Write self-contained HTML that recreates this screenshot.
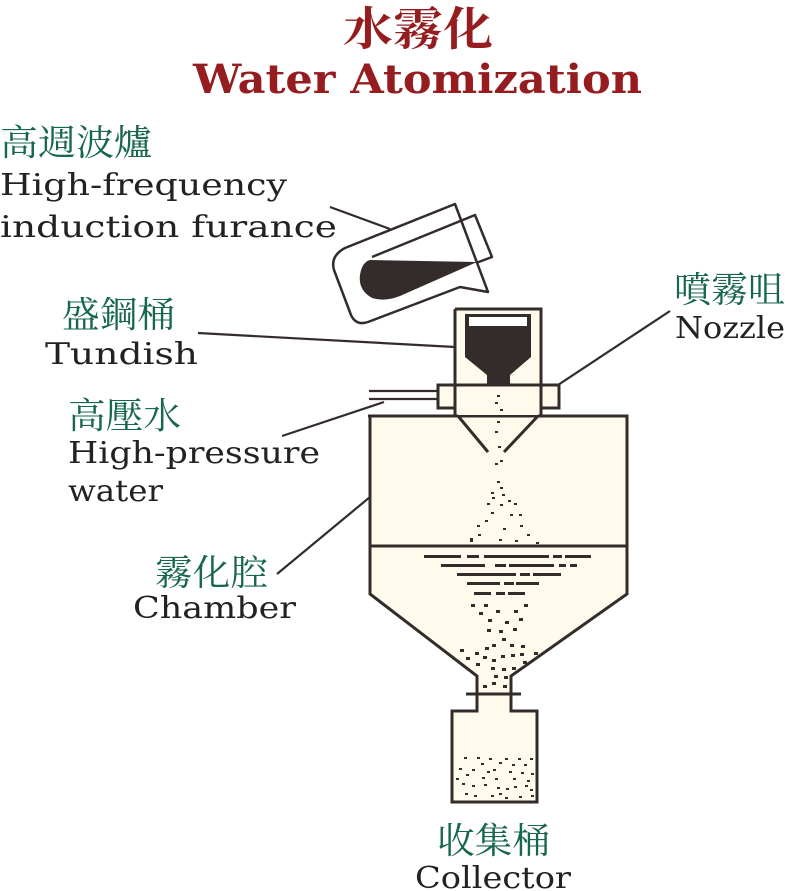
<!DOCTYPE html>
<html><head><meta charset="utf-8"><style>
html,body{margin:0;padding:0;background:#fff;}
svg{display:block;}
.g{fill:#17684a;font-family:"Noto Serif CJK SC","Noto Sans CJK TC",serif;font-size:36px;}
.e{fill:#222;font-family:"DejaVu Serif","Liberation Serif",serif;font-size:30px;}
</style></head><body>
<svg width="785" height="891" viewBox="0 0 785 891" xmlns="http://www.w3.org/2000/svg">
<text x="343" y="45" textLength="150" lengthAdjust="spacingAndGlyphs" style="fill:#951d20;font-family:'Noto Serif CJK SC',serif;font-size:46px;font-weight:bold;">水霧化</text>
<text x="193" y="93" textLength="449" lengthAdjust="spacingAndGlyphs" style="fill:#951d20;font-family:'DejaVu Serif','Liberation Serif',serif;font-size:40px;font-weight:bold;">Water Atomization</text>

<text class="g" x="0" y="155" textLength="152" lengthAdjust="spacingAndGlyphs">高週波爐</text>
<text class="e" x="0" y="195" textLength="287" lengthAdjust="spacingAndGlyphs">High-frequency</text>
<text class="e" x="0" y="237" textLength="337" lengthAdjust="spacingAndGlyphs">induction furance</text>
<text class="g" x="62" y="327" textLength="113" lengthAdjust="spacingAndGlyphs">盛鋼桶</text>
<text class="e" x="45" y="364" textLength="153" lengthAdjust="spacingAndGlyphs">Tundish</text>
<text class="g" x="674" y="302" textLength="111" lengthAdjust="spacingAndGlyphs">噴霧咀</text>
<text class="e" x="675" y="338" textLength="110" lengthAdjust="spacingAndGlyphs">Nozzle</text>
<text class="g" x="68" y="428" textLength="113" lengthAdjust="spacingAndGlyphs">高壓水</text>
<text class="e" x="68" y="463" textLength="252" lengthAdjust="spacingAndGlyphs">High-pressure</text>
<text class="e" x="68" y="501" textLength="95" lengthAdjust="spacingAndGlyphs">water</text>
<text class="g" x="155" y="585" textLength="113" lengthAdjust="spacingAndGlyphs">霧化腔</text>
<text class="e" x="133" y="618" textLength="163" lengthAdjust="spacingAndGlyphs">Chamber</text>
<text class="g" x="437" y="853" textLength="113" lengthAdjust="spacingAndGlyphs">收集桶</text>
<text class="e" x="415" y="888" textLength="156" lengthAdjust="spacingAndGlyphs">Collector</text>

<g stroke="#332c2a" stroke-width="2.2" fill="none">
<line x1="330" y1="207" x2="390" y2="229"/>
<line x1="198" y1="333" x2="455" y2="347"/>
<line x1="670" y1="311" x2="558" y2="385"/>
<line x1="282" y1="436" x2="384" y2="402"/>
<line x1="277" y1="574" x2="370" y2="497"/>
<line x1="369" y1="391" x2="438" y2="391"/>
<line x1="369" y1="399" x2="438" y2="399"/>
</g>

<!-- furnace -->
<g stroke="#332c2a" stroke-width="2.5" stroke-linejoin="round">
<path d="M345 248 L455 204 L488 292 L460 287 L368 322 Q356 326 351 315 L334 270 Q330 256 345 248 Z" fill="#fff"/>
<path d="M372 257 L475 215 L492 257 L476 263" fill="none"/>
<path d="M370 260 L477 262 L400 296 Q385 302 372 298 Q358 290 360 275 Q362 262 370 260 Z" fill="#332c2a" stroke="none"/>
</g>

<g stroke="#332c2a" stroke-width="3" fill="#fefbec">
<path d="M370 416 H627 V594 L511 676 V711 H537 V802 H452 V711 H477 V676 L370 594 Z"/>
<line x1="370" y1="546" x2="627" y2="546"/>
<line x1="466" y1="694" x2="521" y2="694"/>
<rect x="438" y="385" width="121" height="23"/>
</g>
<rect x="456" y="310" width="84" height="105" fill="#fefbec"/>
<g stroke="#332c2a" stroke-width="3" fill="none">
<path d="M455 309 H541 V416 M455 309 V416"/>
<line x1="455" y1="385" x2="541" y2="385"/>
<line x1="458" y1="416" x2="488" y2="452"/>
<line x1="538" y1="416" x2="504" y2="452"/>
</g>
<line x1="368" y1="416" x2="458" y2="416" stroke="#332c2a" stroke-width="3"/>
<line x1="538" y1="416" x2="628" y2="416" stroke="#332c2a" stroke-width="3"/>
<path d="M465 314 H531 V357 L510 375 V386 H487 V375 L465 357 Z" fill="#332c2a"/>
<rect x="469" y="317" width="58" height="9" fill="#fff"/>

<g fill="#332c2a">
<rect x="497" y="395" width="3" height="2"/><rect x="495" y="402" width="3" height="2"/><rect x="500" y="409" width="3" height="2"/>
<rect x="497" y="421" width="3" height="2"/><rect x="495" y="431" width="3" height="2"/><rect x="498" y="446" width="3" height="2"/>
<rect x="500" y="460" width="3" height="2"/><rect x="495" y="463" width="3" height="2"/>
<rect x="497" y="481" width="3" height="2"/><rect x="500" y="487" width="3" height="2"/><rect x="491" y="492" width="3" height="2"/>
<rect x="502" y="494" width="3" height="2"/><rect x="492" y="497" width="3" height="2"/><rect x="508" y="500" width="3" height="2"/>
<rect x="487" y="503" width="3" height="2"/><rect x="500" y="504" width="3" height="2"/><rect x="514" y="503" width="3" height="2"/>
<rect x="491" y="512" width="3" height="2"/><rect x="510" y="514" width="3" height="2"/><rect x="519" y="514" width="3" height="2"/>
<rect x="485" y="520" width="3" height="2"/><rect x="477" y="525" width="3" height="2"/><rect x="503" y="528" width="3" height="2"/>
<rect x="520" y="525" width="3" height="2"/><rect x="478" y="534" width="3" height="2"/><rect x="527" y="534" width="3" height="2"/>
<rect x="470" y="540" width="3" height="2"/><rect x="499" y="539" width="3" height="2"/><rect x="515" y="540" width="3" height="2"/>
<rect x="536" y="542" width="3" height="2"/><rect x="470" y="538" width="3" height="2"/>
<rect x="424" y="555" width="37" height="3"/><rect x="467" y="555" width="12" height="3"/><rect x="484" y="555" width="65" height="3"/><rect x="553" y="555" width="9" height="3"/><rect x="565" y="555" width="12" height="3"/><rect x="574" y="555" width="17" height="3"/>
<rect x="441" y="564" width="44" height="3"/><rect x="495" y="564" width="11" height="3"/><rect x="509" y="564" width="45" height="3"/><rect x="559" y="564" width="7" height="3"/><rect x="570" y="564" width="7" height="3"/>
<rect x="457" y="573" width="10" height="3"/><rect x="467" y="573" width="49" height="3"/><rect x="520" y="573" width="10" height="3"/><rect x="533" y="573" width="28" height="3"/>
<rect x="467" y="582" width="33" height="3"/><rect x="504" y="582" width="10" height="3"/><rect x="516" y="582" width="23" height="3"/>
<rect x="474" y="592" width="17" height="3"/><rect x="496" y="592" width="9" height="3"/><rect x="508" y="592" width="17" height="3"/>
<rect x="471" y="604" width="4" height="3"/><rect x="484" y="604" width="4" height="3"/><rect x="524" y="604" width="4" height="3"/>
<rect x="479" y="612" width="4" height="3"/><rect x="496" y="610" width="4" height="3"/><rect x="514" y="610" width="4" height="3"/>
<rect x="488" y="619" width="4" height="3"/><rect x="505" y="621" width="4" height="3"/><rect x="519" y="618" width="4" height="3"/>
<rect x="487" y="629" width="4" height="3"/><rect x="499" y="630" width="4" height="3"/><rect x="513" y="628" width="4" height="3"/>
<rect x="502" y="638" width="4" height="3"/>
<rect x="460" y="649" width="4" height="3"/><rect x="475" y="652" width="4" height="3"/><rect x="485" y="647" width="4" height="3"/><rect x="492" y="644" width="4" height="3"/><rect x="510" y="644" width="4" height="3"/><rect x="521" y="645" width="4" height="3"/>
<rect x="466" y="657" width="4" height="3"/><rect x="483" y="656" width="4" height="3"/><rect x="492" y="659" width="4" height="3"/><rect x="501" y="655" width="4" height="3"/><rect x="511" y="654" width="4" height="3"/><rect x="520" y="653" width="4" height="3"/><rect x="534" y="652" width="4" height="3"/>
<rect x="476" y="663" width="4" height="3"/><rect x="491" y="667" width="4" height="3"/><rect x="502" y="668" width="4" height="3"/><rect x="512" y="667" width="4" height="3"/><rect x="523" y="661" width="4" height="3"/>
<rect x="494" y="675" width="4" height="3"/><rect x="504" y="676" width="4" height="3"/>
<rect x="483" y="685" width="4" height="3"/><rect x="492" y="682" width="4" height="3"/><rect x="503" y="685" width="4" height="3"/>
<rect x="464" y="757" width="3" height="2"/><rect x="477" y="757" width="3" height="2"/><rect x="489" y="758" width="3" height="2"/><rect x="505" y="758" width="3" height="2"/><rect x="518" y="758" width="3" height="2"/><rect x="530" y="758" width="3" height="2"/>
<rect x="481" y="763" width="3" height="2"/><rect x="499" y="762" width="3" height="2"/><rect x="512" y="764" width="3" height="2"/><rect x="524" y="764" width="3" height="2"/>
<rect x="459" y="768" width="3" height="2"/><rect x="472" y="769" width="3" height="2"/><rect x="487" y="771" width="3" height="2"/><rect x="493" y="769" width="3" height="2"/><rect x="509" y="771" width="3" height="2"/><rect x="521" y="772" width="3" height="2"/><rect x="531" y="773" width="3" height="2"/>
<rect x="456" y="778" width="3" height="2"/><rect x="466" y="774" width="3" height="2"/><rect x="482" y="777" width="3" height="2"/><rect x="495" y="778" width="3" height="2"/><rect x="513" y="778" width="3" height="2"/><rect x="527" y="780" width="3" height="2"/>
<rect x="462" y="783" width="3" height="2"/><rect x="472" y="785" width="3" height="2"/><rect x="484" y="784" width="3" height="2"/><rect x="497" y="787" width="3" height="2"/><rect x="506" y="788" width="3" height="2"/><rect x="514" y="786" width="3" height="2"/><rect x="525" y="785" width="3" height="2"/><rect x="530" y="789" width="3" height="2"/>
<rect x="465" y="793" width="3" height="2"/><rect x="474" y="795" width="3" height="2"/><rect x="491" y="795" width="3" height="2"/><rect x="499" y="793" width="3" height="2"/><rect x="505" y="797" width="3" height="2"/><rect x="519" y="796" width="3" height="2"/><rect x="531" y="795" width="3" height="2"/>
</g>
</svg>
</body></html>
